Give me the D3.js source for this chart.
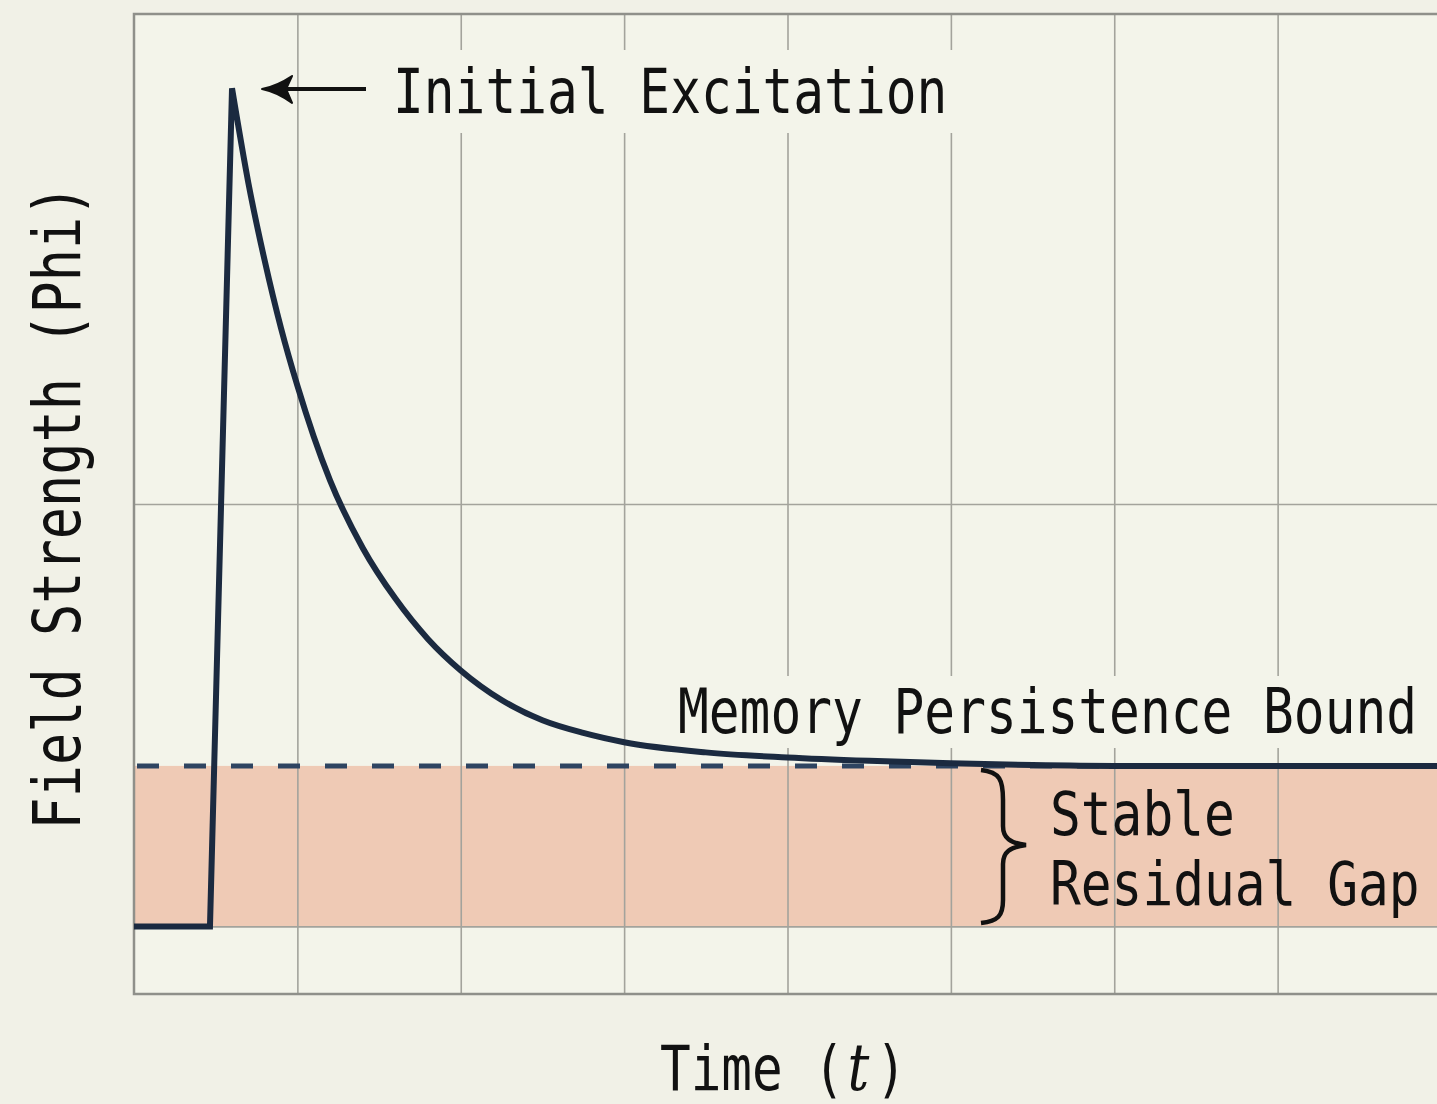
<!DOCTYPE html>
<html>
<head>
<meta charset="utf-8">
<script src="https://cdn.jsdelivr.net/npm/d3@7/dist/d3.min.js"></script>
<style>
  html, body { margin: 0; padding: 0; background: #F1F1E7; }
  svg { display: block; }
</style>
</head>
<body>
<script>
// ---- data ----
const timeValues = [0, 0.465, 0.6, 0.7, 0.8, 0.9, 1.0, 1.1, 1.2, 1.4, 1.6, 1.8, 2.0, 2.25, 2.5, 2.75, 3.0, 3.5, 4.0, 4.5, 5.0, 5.5, 6.0, 7.0, 8.0];
const phiValues  = [0, 0, 9.92, 8.8, 7.88, 7.08, 6.4, 5.8, 5.28, 4.48, 3.88, 3.4, 3.03, 2.68, 2.44, 2.29, 2.18, 2.06, 2.0, 1.96, 1.93, 1.91, 1.9, 1.9, 1.9];
const peakIndex = 2;
const persistenceBound = 1.9;
const gapFloor = 0;
const xGridTicks = [1, 2, 3, 4, 5, 6, 7, 8];
const yGridTicks = [0, 5];
const xDomain = [0, 8];
const yDomain = [-0.8, 10.8];
const labels = {
  peak: "Initial Excitation",
  bound: "Memory Persistence Bound",
  gap: ["Stable", "Residual Gap"],
  xAxis: ["Time (", "t", ")"],
  yAxis: "Field Strength (Phi)"
};

// ---- layout ----
const W = 1437, H = 1104;
const M = { left: 134, top: 14, right: 1441, bottom: 994 };
const mono = "'DejaVu Sans Mono', 'Liberation Mono', monospace";
const SX = 0.812; // horizontal condensing of the mono face

const svg = d3.select("body").append("svg").attr("width", W).attr("height", H);

const x = d3.scaleLinear().domain(xDomain).range([M.left, M.right]);
const y = d3.scaleLinear().domain(yDomain).range([M.bottom, M.top]);

// plot background
svg.append("rect").attr("x", M.left).attr("y", M.top)
  .attr("width", M.right - M.left).attr("height", M.bottom - M.top)
  .attr("fill", "#F3F4EA");

// residual gap band
svg.append("rect")
  .attr("x", x(xDomain[0])).attr("y", y(persistenceBound))
  .attr("width", x(xDomain[1]) - x(xDomain[0]))
  .attr("height", y(gapFloor) - y(persistenceBound))
  .attr("fill", "#EFCAB5");

// grid via axes
const gx = svg.append("g").attr("transform", `translate(0,${M.bottom})`)
  .call(d3.axisBottom(x).tickValues(xGridTicks).tickSize(-(M.bottom - M.top)).tickFormat(""));
const gy = svg.append("g").attr("transform", `translate(${M.left},0)`)
  .call(d3.axisLeft(y).tickValues(yGridTicks).tickSize(-(M.right - M.left)).tickFormat(""));
[gx, gy].forEach(g => {
  g.select(".domain").remove();
  g.selectAll(".tick line").attr("stroke", "#A3A39C").attr("stroke-width", 1.6);
});

// frame
svg.append("rect").attr("x", M.left).attr("y", M.top)
  .attr("width", M.right - M.left).attr("height", M.bottom - M.top)
  .attr("fill", "none").attr("stroke", "#8F908A").attr("stroke-width", 2.5);

// text background boxes (hide grid behind labels)
function bgBox(x0, y0, x1, y1) {
  svg.append("rect").attr("x", x0).attr("y", y0).attr("width", x1 - x0).attr("height", y1 - y0)
    .attr("fill", "#F3F4EA");
}
bgBox(380, 50, 958, 133);
bgBox(665, 676, 1432, 748);

// dashed persistence bound
svg.append("line")
  .attr("x1", x(xDomain[0])).attr("x2", x(xDomain[1]))
  .attr("y1", y(persistenceBound)).attr("y2", y(persistenceBound))
  .attr("stroke", "#2E4461").attr("stroke-width", 5)
  .attr("stroke-dasharray", "22 25").attr("stroke-dashoffset", -3);

// curve
const pts = timeValues.map((t, i) => [t, phiValues[i]]);
const lineLin = d3.line().x(d => x(d[0])).y(d => y(d[1])).curve(d3.curveLinear);
const lineMono = d3.line().x(d => x(d[0])).y(d => y(d[1])).curve(d3.curveMonotoneX);
const dPath = lineLin(pts.slice(0, peakIndex + 1)) + lineMono(pts.slice(peakIndex)).replace(/^M/, "L");
svg.append("path").attr("d", dPath)
  .attr("fill", "none").attr("stroke", "#1B2A40").attr("stroke-width", 6)
  .attr("stroke-linejoin", "miter").attr("stroke-miterlimit", 10);

// annotation: arrow
const peakX = x(timeValues[peakIndex]);
svg.append("line").attr("x1", 366).attr("x2", peakX + 40).attr("y1", 89).attr("y2", 89)
  .attr("stroke", "#111").attr("stroke-width", 4);
svg.append("path")
  .attr("d", `M${peakX + 60},76 Q${peakX + 45},86 ${peakX + 30},89 Q${peakX + 45},92 ${peakX + 60},103 L${peakX + 54},89 Z`)
  .attr("fill", "#111").attr("stroke", "#111").attr("stroke-width", 2).attr("stroke-linejoin", "round");

// text helper (condensed via transform so the box is measured correctly)
function monoText(txt, x0, yb, size, sx) {
  return svg.append("text")
    .attr("transform", `translate(${x0},${yb}) scale(${sx},1)`)
    .attr("font-family", mono).attr("font-size", size)
    .attr("fill", "#111")
    .text(txt);
}
monoText(labels.peak, 393, 113, 63, SX);
monoText(labels.bound, 678, 733, 63, SX);
// two-line gap label (slightly smaller size so the line boxes do not collide)
const gapSize = 60, gapSX = 30.8 / (0.602 * gapSize);
monoText(labels.gap[0], 1050, 835, gapSize, gapSX);
monoText(labels.gap[1], 1050, 905, gapSize, gapSX);

// brace
svg.append("path")
  .attr("d", "M981,770 C1000,772 1003,780 1003,800 L1003,826 C1003,838 1010,843 1026,845 C1010,847 1003,852 1003,864 L1003,900 C1003,916 998,921 981,923")
  .attr("fill", "none").attr("stroke", "#111").attr("stroke-width", 4.5);

// x-axis label
const xl = svg.append("text")
  .attr("transform", `translate(660,1090) scale(${SX + 0.01},1)`)
  .attr("font-family", mono).attr("font-size", 62).attr("fill", "#111");
xl.append("tspan").text(labels.xAxis[0]);
xl.append("tspan").attr("dx", 4).attr("font-family", "'DejaVu Serif', serif").attr("font-style", "italic").attr("font-size", 66).text(labels.xAxis[1]);
xl.append("tspan").attr("dx", 8).text(labels.xAxis[2]);

// y-axis label
svg.append("text")
  .attr("transform", `translate(80,507) rotate(-90) scale(${645 / (20 * 0.602 * 66)},1)`)
  .attr("text-anchor", "middle")
  .attr("font-family", mono).attr("font-size", 66).attr("fill", "#111")
  .text(labels.yAxis);
</script>
</body>
</html>
